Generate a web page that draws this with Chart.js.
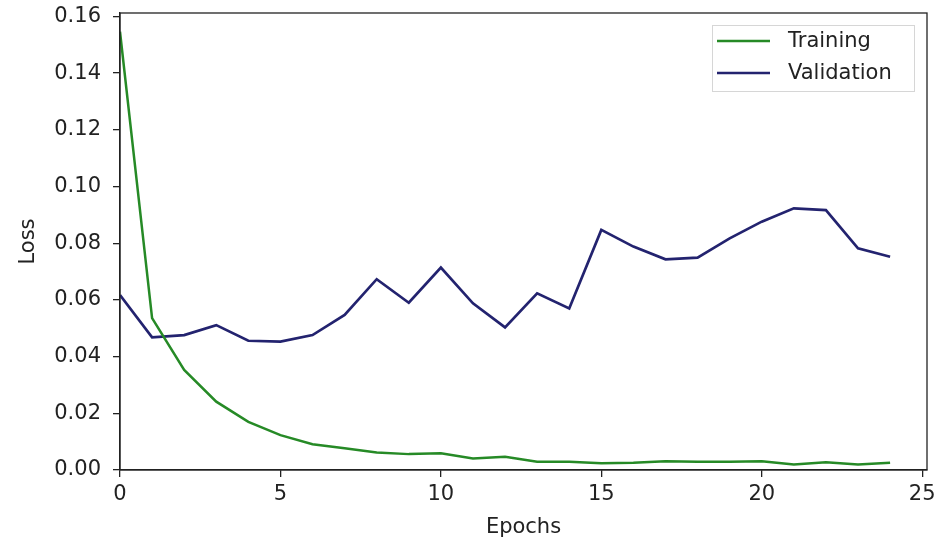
<!DOCTYPE html>
<html>
<head>
<meta charset="utf-8">
<script src="https://cdn.jsdelivr.net/npm/chart.js@4/dist/chart.umd.min.js"></script>
<style>
  html, body { margin: 0; padding: 0; background: #fff; }
  #wrap { width: 936px; height: 540px; }
</style>
</head>
<body>
<div id="wrap"><canvas id="lossChart" width="936" height="540"></canvas></div>
<script>
// Loss per epoch
var epochs = [0, 1, 2, 3, 4, 5, 6, 7, 8, 9, 10, 11, 12, 13, 14, 15, 16, 17, 18, 19, 20, 21, 22, 23, 24];
var trainingLoss = [0.1546, 0.0536, 0.0353, 0.0241, 0.0170, 0.0123, 0.0091, 0.0077, 0.0062, 0.0056,
                    0.0059, 0.0041, 0.0047, 0.0029, 0.0029, 0.0024, 0.0026, 0.0031, 0.0029, 0.0029,
                    0.0031, 0.0019, 0.0027, 0.0019, 0.0026];
var validationLoss = [0.0617, 0.0468, 0.0476, 0.0511, 0.0456, 0.0453, 0.0476, 0.0547, 0.0673, 0.0590,
                      0.0714, 0.0588, 0.0503, 0.0623, 0.0570, 0.0847, 0.0788, 0.0743, 0.0749, 0.0817,
                      0.0876, 0.0923, 0.0917, 0.0782, 0.0752];
var xTicks = [0, 5, 10, 15, 20, 25];
var yTicks = [0, 0.02, 0.04, 0.06, 0.08, 0.10, 0.12, 0.14, 0.16];

var FONT = "'DejaVu Sans', sans-serif";
var GREEN = '#268a26';
var NAVY = '#23236f';

function toPoints(ys) {
  return ys.map(function(v, i) { return { x: epochs[i], y: v }; });
}

// Frame around the plot area + legend box in the upper right corner
var framePlugin = {
  id: 'frame',
  afterDatasetsDraw: function(chart) {
    var a = chart.chartArea;
    var ctx = chart.ctx;
    ctx.save();
    ctx.strokeStyle = '#222';
    ctx.lineWidth = 1.3;
    ctx.strokeRect(a.left, a.top, a.right - a.left, a.bottom - a.top);

    // legend
    var bx = a.right - 215, by = a.top + 12, bw = 202, bh = 66;
    ctx.fillStyle = 'rgba(255,255,255,0.8)';
    ctx.fillRect(bx, by, bw, bh);
    ctx.strokeStyle = '#d6d6d6';
    ctx.lineWidth = 1;
    ctx.strokeRect(bx + 0.5, by + 0.5, bw, bh);
    ctx.font = '21px ' + FONT;
    ctx.textBaseline = 'middle';
    chart.data.datasets.forEach(function(ds, i) {
      var ly = by + 16 + i * 32;
      ctx.strokeStyle = ds.borderColor;
      ctx.lineWidth = 2.6;
      ctx.beginPath();
      ctx.moveTo(bx + 5, ly);
      ctx.lineTo(bx + 58, ly);
      ctx.stroke();
      ctx.fillStyle = '#222';
      ctx.fillText(ds.label, bx + 76, ly + 1);
    });
    ctx.restore();
  }
};

new Chart(document.getElementById('lossChart').getContext('2d'), {
  type: 'line',
  data: {
    datasets: [
      { label: 'Training', data: toPoints(trainingLoss), borderColor: GREEN, borderWidth: 2.5,
        pointRadius: 0, tension: 0, fill: false },
      { label: 'Validation', data: toPoints(validationLoss), borderColor: NAVY, borderWidth: 2.7,
        pointRadius: 0, tension: 0, fill: false }
    ]
  },
  options: {
    responsive: false,
    animation: false,
    devicePixelRatio: 1,
    layout: { padding: { top: 13, right: 9, left: 0, bottom: 0 } },
    plugins: {
      legend: { display: false },
      tooltip: { enabled: false }
    },
    scales: {
      x: {
        type: 'linear',
        min: 0,
        max: 25.15,
        afterBuildTicks: function(scale) {
          scale.ticks = xTicks.map(function(v) { return { value: v }; });
        },
        afterFit: function(scale) {
          scale.height = 70;
          scale.paddingLeft = 0;
          scale.paddingRight = 0;
        },
        grid: { drawOnChartArea: false, drawTicks: true, tickLength: 7, color: '#222', lineWidth: 1.3 },
        border: { display: true, color: '#222', width: 1.3 },
        ticks: { color: '#222', font: { family: FONT, size: 21 }, padding: 5, maxRotation: 0,
                 callback: function(v) { return String(v); } },
        title: { display: true, text: 'Epochs', color: '#222', font: { family: FONT, size: 21 },
                 padding: { top: 0, bottom: 0 } }
      },
      y: {
        type: 'linear',
        min: 0,
        max: 0.1612,
        afterBuildTicks: function(scale) {
          scale.ticks = yTicks.map(function(v) { return { value: v }; });
        },
        afterFit: function(scale) {
          scale.width = 120;
          scale.paddingTop = 0;
          scale.paddingBottom = 0;
        },
        grid: { drawOnChartArea: false, drawTicks: true, tickLength: 7, color: '#222', lineWidth: 1.3 },
        border: { display: true, color: '#222', width: 1.3 },
        ticks: { color: '#222', font: { family: FONT, size: 21 }, padding: 12,
                 callback: function(v) { return v.toFixed(2); } },
        title: { display: true, text: 'Loss', color: '#222', font: { family: FONT, size: 21 },
                 padding: { top: 16, bottom: 0 } }
      }
    }
  },
  plugins: [framePlugin]
});
</script>
</body>
</html>
